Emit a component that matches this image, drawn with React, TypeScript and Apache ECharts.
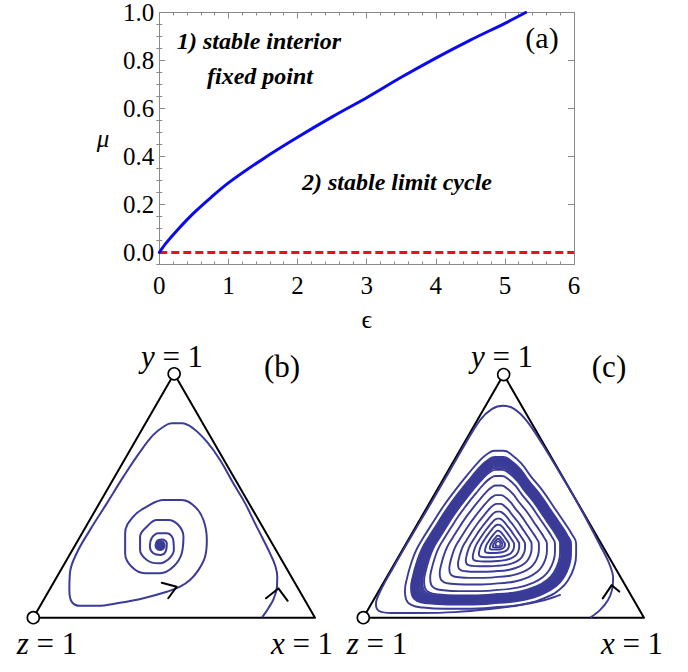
import React, { useEffect, useRef } from "react";
import * as echarts from "echarts";

// ---------- panel (a) data ----------
const epsilon = [0, 0.1, 0.25, 0.5, 0.75, 1, 1.5, 2, 2.5, 3, 3.5, 4, 4.5, 5, 5.3];
const muBoundary = [0, 0.04, 0.09, 0.165, 0.23, 0.29, 0.39, 0.48, 0.565, 0.645, 0.73, 0.81, 0.885, 0.955, 1.0];
const dashedEps = [0, 6];
const dashedMu = [0, 0];
const xTickValues = [0, 1, 2, 3, 4, 5, 6];
const yMajorTicks = [0, 0.2, 0.4, 0.6, 0.8, 1.0];
const yMinorTicks = [-0.05, 0.05, 0.1, 0.15, 0.25, 0.3, 0.35, 0.45, 0.5, 0.55, 0.65, 0.7, 0.75, 0.85, 0.9, 0.95];

// ---------- simplex panels (triangle side = 100) ----------
const simplexEdges = [[0, 0], [100, 0], [50, 86.6], [0, 0]];
const openVertices = [[50, 86.6], [0, 0]];

// panel (b): trajectory spiralling into the stable interior fixed point
const panelBTrajectory = [
  [81.4, 0.4], [83.4, 3.3], [85.4, 6.9], [86.5, 11.0], [86.6, 14.6], [85.8, 18.7], [84.0, 22.9], [81.7, 27.6],
  [78.7, 33.5], [75.2, 40.6], [71.0, 47.7], [66.3, 56.0], [61.6, 62.5], [56.8, 67.2], [52.7, 69.0], [49.1, 69.0],
  [46.2, 67.8], [42.6, 64.9], [37.9, 58.9], [32.0, 50.1], [26.1, 40.6], [20.1, 31.1], [15.4, 22.9], [13.0, 15.8],
  [12.8, 9.8], [13.6, 5.7], [16.6, 4.2], [22.5, 4.2], [30.8, 5.3], [39.1, 6.9], [47.4, 9.2], [52.1, 11.0],
  [55.6, 13.4], [58.6, 16.9], [61.0, 21.7], [61.6, 27.6], [60.4, 34.7], [57.4, 39.4], [52.7, 41.8], [46.2, 41.8],
  [40.3, 39.4], [35.5, 35.9], [32.6, 30.0], [32.6, 22.9], [34.9, 18.1], [39.7, 15.8], [45.0, 15.8], [49.7, 18.1],
  [52.7, 22.9], [53.3, 28.8], [51.5, 32.9], [47.9, 34.7], [43.8, 34.7], [40.3, 32.3], [37.9, 28.8], [37.9, 24.0],
  [40.3, 20.5], [44.4, 19.3], [47.9, 20.7], [49.9, 24.0], [49.7, 27.6], [47.4, 30.0], [44.4, 30.0], [42.0, 28.2],
  [41.4, 25.2], [42.6, 22.9], [45.2, 22.3], [47.1, 23.8], [47.4, 26.4], [45.6, 27.8], [43.8, 27.0], [43.6, 25.2],
  [45.0, 24.3]
];
const panelBFixedPoint = [[45.0, 25.6]];
const panelBArrowBottom = [[45.6, 12.4], [50.9, 11.0], [47.9, 6.9]];
const panelBArrowRight = [[82.6, 6.9], [87.0, 10.4], [90.3, 6.0]];

// panel (c): stable limit cycle
const panelCOuter = [
  [81.1, 0.2], [84.3, 2.7], [87.2, 6.3], [88.6, 9.9], [89.0, 14.1], [87.5, 19.5], [84.3, 25.9], [80.0, 34.1],
  [75.1, 43.0], [69.4, 52.6], [63.3, 62.6], [58.0, 70.4], [53.7, 74.4], [49.8, 75.5], [45.9, 74.4], [41.6, 70.4],
  [35.9, 61.2], [29.5, 50.1], [23.1, 39.1], [16.6, 28.1], [10.6, 17.7], [6.3, 9.9], [4.5, 4.9], [5.6, 2.4],
  [10.2, 1.7], [20.2, 1.7], [32.7, 2.0], [45.1, 3.1], [55.8, 4.5], [64.7, 6.3], [70.1, 8.1]
];
const panelCCenter = [48.0, 26.3];
// limit-cycle shape, relative to the centre
const panelCCycleShape = [
  [0, -21.0], [8.9, -20.0], [16.0, -17.8], [20.7, -15.0], [23.5, -11.8], [25.3, -7.8], [26.0, -3.6], [26.0, 0],
  [24.6, 3.2], [22.1, 7.1], [18.9, 11.8], [15.0, 17.5], [11.0, 22.4], [7.8, 26.7], [4.6, 29.6], [1.8, 31.0],
  [-1.1, 31.0], [-3.6, 29.9], [-6.4, 27.4], [-10.0, 23.2], [-14.3, 17.8], [-18.2, 12.5], [-21.7, 7.1], [-24.6, 2.5],
  [-27.1, -1.8], [-28.9, -6.4], [-30.3, -11.4], [-31.0, -15.7], [-30.6, -18.5], [-28.9, -20.3], [-24.9, -21.2],
  [-17.8, -21.6], [-8.9, -21.6], [0, -21.0]
];
// relative sizes of the successive turns seen in the picture
const panelCTurnSizes = [
  0.03, 0.06, 0.095, 0.15, 0.22, 0.29, 0.37, 0.46, 0.56, 0.67, 0.78,
  0.85, 0.87, 0.885, 0.9, 0.915, 0.93, 0.94, 0.95, 0.96, 0.97, 0.98, 0.99, 1.0, 1.07
];
const panelCArrow = [[85.3, 6.9], [88.5, 11.6], [91.2, 9.3]];

const SERIF = "Liberation Serif, Times New Roman, serif";
const TRAJ = "#3b3b98";

type Txt = { x: number; y: number; text: string; size: number; bold?: boolean; rich?: boolean };
const labels: Txt[] = [
  { x: 542, y: 37, text: "(a)", size: 30 },
  { x: 259, y: 41, text: "1) stable interior", size: 24, bold: true },
  { x: 260, y: 76, text: "fixed point", size: 24, bold: true },
  { x: 397, y: 182, text: "2) stable limit cycle", size: 24, bold: true },
  { x: 172, y: 356, text: "{i|y}{n| = 1}", size: 31, rich: true },
  { x: 282, y: 366, text: "(b)", size: 31 },
  { x: 47, y: 643, text: "{i|z}{n| = 1}", size: 31, rich: true },
  { x: 302, y: 643, text: "{i|x}{n| = 1}", size: 31, rich: true },
  { x: 502, y: 356, text: "{i|y}{n| = 1}", size: 31, rich: true },
  { x: 609, y: 366, text: "(c)", size: 31 },
  { x: 377, y: 643, text: "{i|z}{n| = 1}", size: 31, rich: true },
  { x: 632, y: 643, text: "{i|x}{n| = 1}", size: 31, rich: true }
];

export default function App() {
  const ref = useRef<HTMLDivElement>(null);
  useEffect(() => {
    const chart = echarts.init(ref.current!, null, { renderer: "svg" });
    const frame = "#8a8a8a";
    const lineSeries = (name: string, xi: number, yi: number, data: number[][], color: string, width: number, extra: any = {}) => ({
      name,
      type: "line",
      xAxisIndex: xi,
      yAxisIndex: yi,
      data,
      symbol: "none",
      showSymbol: false,
      clip: false,
      silent: true,
      lineStyle: { color, width, cap: "round", join: "round", ...(extra.lineStyle || {}) },
      smooth: extra.smooth ?? false,
      z: extra.z ?? 2
    });

    const ringSeries = panelCTurnSizes.map((s, k) =>
      lineSeries(
        "ring" + k,
        3,
        5,
        panelCCycleShape.map(([dx, dy]) => [panelCCenter[0] + s * dx, panelCCenter[1] + s * dy]),
        TRAJ,
        1.9,
        { smooth: 0.5 }
      )
    );

    const vertexStyle = { color: "#fff", borderColor: "#000", borderWidth: 1.6, opacity: 1 };

    const option: any = {
      animation: false,
      backgroundColor: "#ffffff",
      grid: [
        { left: 159.3, top: 8.8, width: 414.7, height: 255.7 },
        { left: 33.3, top: 373.8, width: 281.7, height: 243.9 },
        { left: 363.3, top: 374.6, width: 280.7, height: 243.1 }
      ],
      xAxis: [
        {
          gridIndex: 0, type: "value", min: 0, max: 6, interval: 1, position: "bottom",
          name: "\u03F5", nameLocation: "middle", nameGap: 42,
          nameTextStyle: { fontFamily: SERIF, fontSize: 26, color: "#000" },
          axisLine: { show: true, onZero: false, lineStyle: { color: frame, width: 1 } },
          axisTick: { show: true, inside: true, length: 6, lineStyle: { color: frame } },
          minorTick: { show: true, splitNumber: 5, length: 3, lineStyle: { color: frame } },
          axisLabel: { show: true, margin: 8, fontFamily: SERIF, fontSize: 25, color: "#000", customValues: xTickValues },
          splitLine: { show: false }
        },
        {
          gridIndex: 0, type: "value", min: 0, max: 6, interval: 1, position: "top",
          axisLine: { show: true, onZero: false, lineStyle: { color: frame, width: 1 } },
          axisTick: { show: true, inside: true, length: 6, lineStyle: { color: frame } },
          minorTick: { show: true, splitNumber: 5, length: 3, lineStyle: { color: frame } },
          axisLabel: { show: false },
          splitLine: { show: false }
        },
        { gridIndex: 1, type: "value", min: 0, max: 100, show: false },
        { gridIndex: 2, type: "value", min: 0, max: 100, show: false }
      ],
      yAxis: [
        {
          gridIndex: 0, type: "value", min: -0.05, max: 1, position: "left",
          name: "\u03BC", nameLocation: "middle", nameGap: 50, nameRotate: 0,
          nameTextStyle: { fontFamily: SERIF, fontSize: 25, fontStyle: "italic", color: "#000" },
          axisLine: { show: true, onZero: false, lineStyle: { color: frame, width: 1 } },
          axisTick: { show: true, inside: true, length: 6, customValues: yMajorTicks, lineStyle: { color: frame } },
          axisLabel: {
            show: true, margin: 5, fontFamily: SERIF, fontSize: 25, color: "#000", customValues: yMajorTicks,
            formatter: (v: number) => v.toFixed(1)
          },
          splitLine: { show: false }
        },
        {
          gridIndex: 0, type: "value", min: -0.05, max: 1, position: "right",
          axisLine: { show: true, onZero: false, lineStyle: { color: frame, width: 1 } },
          axisTick: { show: true, inside: true, length: 6, customValues: yMajorTicks, lineStyle: { color: frame } },
          axisLabel: { show: false, customValues: yMajorTicks },
          splitLine: { show: false }
        },
        {
          gridIndex: 0, type: "value", min: -0.05, max: 1, position: "left",
          axisLine: { show: false },
          axisTick: { show: true, inside: true, length: 3, customValues: yMinorTicks, lineStyle: { color: frame } },
          axisLabel: { show: false, customValues: yMinorTicks },
          splitLine: { show: false }
        },
        {
          gridIndex: 0, type: "value", min: -0.05, max: 1, position: "right",
          axisLine: { show: false },
          axisTick: { show: true, inside: true, length: 3, customValues: yMinorTicks, lineStyle: { color: frame } },
          axisLabel: { show: false, customValues: yMinorTicks },
          splitLine: { show: false }
        },
        { gridIndex: 1, type: "value", min: 0, max: 86.6, show: false },
        { gridIndex: 2, type: "value", min: 0, max: 86.6, show: false }
      ],
      series: [
        lineSeries("boundary", 0, 0, epsilon.map((e, i) => [e, muBoundary[i]]), "#0a0af0", 3, { smooth: 0.3, z: 4 }),
        lineSeries("zero", 0, 0, dashedEps.map((e, i) => [e, dashedMu[i]]), "#f01010", 3, { lineStyle: { type: [8, 4], cap: "butt" }, z: 3 }),
        lineSeries("triB", 2, 4, simplexEdges, "#000", 2, { z: 2 }),
        lineSeries("triC", 3, 5, simplexEdges, "#000", 2, { z: 2 }),
        lineSeries("trajB", 2, 4, panelBTrajectory, TRAJ, 2, { smooth: 0.4, z: 3 }),
        lineSeries("arrowB1", 2, 4, panelBArrowBottom, "#000", 2, { z: 5 }),
        lineSeries("arrowB2", 2, 4, panelBArrowRight, "#000", 2, { z: 5 }),
        {
          type: "scatter", xAxisIndex: 2, yAxisIndex: 4, data: panelBFixedPoint, symbol: "circle", symbolSize: 11,
          itemStyle: { color: TRAJ, opacity: 1 }, silent: true, z: 4
        },
        lineSeries("outerC", 3, 5, panelCOuter, TRAJ, 1.9, { smooth: 0.35, z: 3 }),
        ...ringSeries,
        lineSeries("arrowC", 3, 5, panelCArrow, "#000", 2, { z: 5 }),
        {
          type: "scatter", xAxisIndex: 3, yAxisIndex: 5, data: [panelCCenter], symbol: "circle", symbolSize: 3,
          itemStyle: { color: "#fff", opacity: 1 }, silent: true, z: 6
        },
        {
          type: "scatter", xAxisIndex: 2, yAxisIndex: 4, data: openVertices, symbol: "circle", symbolSize: 12,
          itemStyle: vertexStyle, silent: true, clip: false, z: 7
        },
        {
          type: "scatter", xAxisIndex: 3, yAxisIndex: 5, data: openVertices, symbol: "circle", symbolSize: 12,
          itemStyle: vertexStyle, silent: true, clip: false, z: 7
        }
      ],
      graphic: labels.map((t) => {
        const style: any = {
          text: t.text,
          fill: "#000",
          fontFamily: SERIF,
          fontSize: t.size,
          fontStyle: t.bold ? "italic" : "normal",
          fontWeight: t.bold ? "bold" : "normal",
          align: "center",
          verticalAlign: "middle"
        };
        if (t.rich) {
          style.rich = {
            i: { fontFamily: SERIF, fontSize: t.size, fontStyle: "italic", fill: "#000" },
            n: { fontFamily: SERIF, fontSize: t.size, fill: "#000" }
          };
        }
        return { type: "text", x: t.x, y: t.y, silent: true, style };
      })
    };
    chart.setOption(option);
    return () => chart.dispose();
  }, []);
  return (
    <div
      ref={ref}
      style={{ position: "absolute", left: 0, top: 0, width: 688, height: 672, background: "#fff" }}
    />
  );
}
